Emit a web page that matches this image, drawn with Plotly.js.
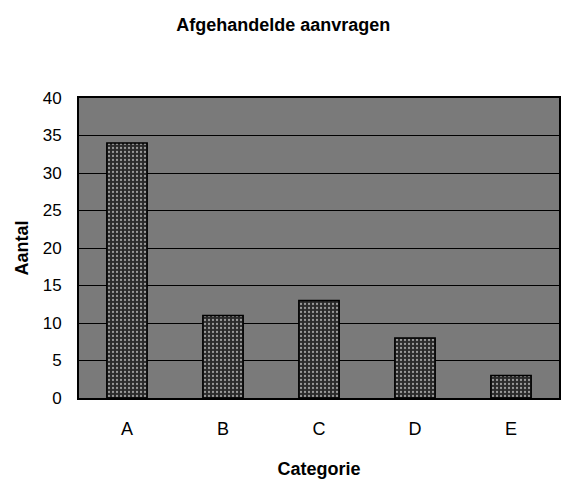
<!DOCTYPE html>
<html>
<head>
<meta charset="utf-8">
<script src="https://cdn.plot.ly/plotly-3.0.1.min.js"></script>
<style>html,body{margin:0;padding:0;background:#fff;}#chart{width:563px;height:479px;}</style>
</head>
<body>
<div id="chart"></div>
<script>
var categories = ["A", "B", "C", "D", "E"];
var values = [34, 11, 13, 8, 3];
var yTicks = [0, 5, 10, 15, 20, 25, 30, 35, 40];

var trace = {
  type: "bar",
  x: categories,
  y: values,
  marker: {
    color: "#3c3c3c",
    line: {color: "#000000", width: 1.5},
    pattern: {shape: ".", fgcolor: "#9a9a9a", bgcolor: "#2a2a2a", size: 4, solidity: 0.25}
  },
  hoverinfo: "none"
};

var layout = {
  width: 563,
  height: 479,
  margin: {l: 79, r: 4, t: 98, b: 81},
  paper_bgcolor: "#ffffff",
  plot_bgcolor: "#7a7a7a",
  font: {family: "Liberation Sans, Arial, sans-serif", color: "#000000", size: 17},
  title: {
    text: "<b>Afgehandelde aanvragen</b>",
    font: {size: 18, family: "Liberation Sans, Arial, sans-serif", color: "#000"},
    x: 0.503, xanchor: "center", y: 0.948, yanchor: "middle"
  },
  bargap: 0.58,
  showlegend: false,
  xaxis: {
    title: {text: "<b>Categorie</b>", font: {size: 18}, standoff: 25},
    showline: true, linecolor: "#000", linewidth: 2, mirror: true,
    ticks: "", tickfont: {size: 18}, ticklabelstandoff: 13
  },
  yaxis: {
    title: {text: "<b>Aantal</b>", font: {size: 18}, standoff: 9},
    range: [0, 40],
    tickvals: yTicks,
    showgrid: true, gridcolor: "#000000", gridwidth: 1,
    showline: true, linecolor: "#000", linewidth: 2, mirror: true,
    zeroline: false, ticks: "", tickfont: {size: 17}, ticklabelstandoff: 12
  }
};

Plotly.newPlot("chart", [trace], layout, {displayModeBar: false, staticPlot: true});
</script>
</body>
</html>
